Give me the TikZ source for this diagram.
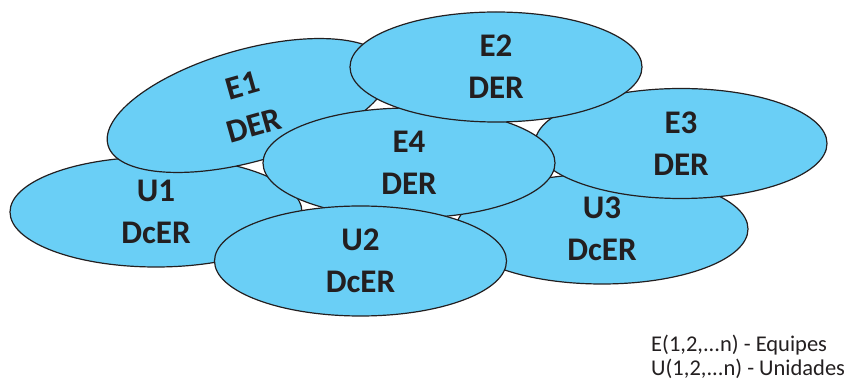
\documentclass[tikz,border=0pt]{standalone}
\usepackage{fontspec}
\setmainfont{Carlito}
\usetikzlibrary{shapes.geometric}
\definecolor{bubblefill}{RGB}{106,207,246}
\definecolor{ink}{RGB}{35,31,32}
\begin{document}
\begin{tikzpicture}[x=1pt,y=-1pt,
  bubble/.style={ellipse, draw=ink, line width=1.2pt, fill=bubblefill, inner sep=0pt,
    minimum width=292pt, minimum height=110pt, align=center, text=ink,
    font=\fontsize{33}{42}\selectfont\bfseries},
  legend/.style={anchor=base west, inner sep=0pt, text=ink,
    font=\fontsize{22.5}{24}\selectfont}]
\useasboundingbox (0,0) rectangle (849,379);
\node[bubble] (U1) at (156,212) {U1\\DcER};
\node[bubble] (U3) at (602,229) {U3\\DcER};
\node[bubble, rotate=15.8, minimum height=112pt] (E1) at (248.5,105.5) {E1\\DER};
\node[bubble] (E3) at (681,143.5) {E3\\DER};
\node[bubble] (E4) at (409,163) {E4\\DER};
\node[bubble] (E2) at (496,67) {E2\\DER};
\node[bubble] (U2) at (360.5,261) {U2\\DcER};
\node[legend] (legE) at (651,351.5) {E(1,2,...n) - Equipes};
\node[legend] (legU) at (651,375) {U(1,2,...n) - Unidades};
\end{tikzpicture}
\end{document}
